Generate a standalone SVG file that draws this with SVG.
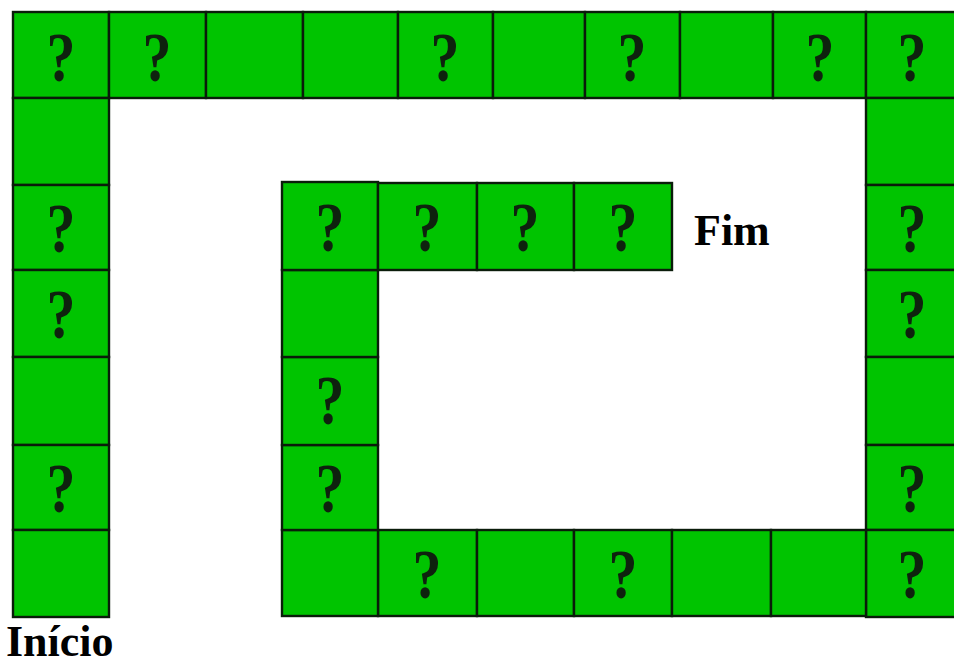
<svg xmlns="http://www.w3.org/2000/svg" width="954" height="665" viewBox="0 0 954 665">
<style>
.c{fill:#00c400;stroke:#0a1c0a;stroke-width:2.4}
.q{font-family:"Liberation Serif",serif;font-weight:bold;font-size:58px;fill:#0e220e;text-anchor:middle}
.l{font-family:"Liberation Serif",serif;font-weight:bold;font-size:44px;fill:#000}
</style>
<rect width="954" height="665" fill="#fff"/>
<g id="top">
<g id="t1"><rect class="c" x="13" y="12" width="96" height="86"/><text class="q" transform="translate(61,81) scale(1,1.2)">?</text></g>
<g id="t2"><rect class="c" x="109" y="12" width="97" height="86"/><text class="q" transform="translate(157,81) scale(1,1.2)">?</text></g>
<g id="t3"><rect class="c" x="206" y="12" width="97" height="86"/></g>
<g id="t4"><rect class="c" x="303" y="12" width="95" height="86"/></g>
<g id="t5"><rect class="c" x="398" y="12" width="95" height="86"/><text class="q" transform="translate(445,81) scale(1,1.2)">?</text></g>
<g id="t6"><rect class="c" x="493" y="12" width="92" height="86"/></g>
<g id="t7"><rect class="c" x="585" y="12" width="95" height="86"/><text class="q" transform="translate(632,81) scale(1,1.2)">?</text></g>
<g id="t8"><rect class="c" x="680" y="12" width="93" height="86"/></g>
<g id="t9"><rect class="c" x="773" y="12" width="93" height="86"/><text class="q" transform="translate(820,81) scale(1,1.2)">?</text></g>
<g id="t10"><rect class="c" x="866" y="12" width="94" height="86"/><text class="q" transform="translate(912,81) scale(1,1.2)">?</text></g>
</g>
<g id="left">
<g id="l2"><rect class="c" x="13" y="98" width="96" height="87"/></g>
<g id="l3"><rect class="c" x="13" y="185" width="96" height="85"/><text class="q" transform="translate(61,252) scale(1,1.2)">?</text></g>
<g id="l4"><rect class="c" x="13" y="270" width="96" height="87"/><text class="q" transform="translate(61,338) scale(1,1.2)">?</text></g>
<g id="l5"><rect class="c" x="13" y="357" width="96" height="88"/></g>
<g id="l6"><rect class="c" x="13" y="445" width="96" height="85"/><text class="q" transform="translate(61,512) scale(1,1.2)">?</text></g>
<g id="l7"><rect class="c" x="13" y="530" width="96" height="87"/></g>
</g>
<g id="right">
<g id="r2"><rect class="c" x="866" y="98" width="94" height="87"/></g>
<g id="r3"><rect class="c" x="866" y="185" width="94" height="85"/><text class="q" transform="translate(912,252) scale(1,1.2)">?</text></g>
<g id="r4"><rect class="c" x="866" y="270" width="94" height="87"/><text class="q" transform="translate(912,338) scale(1,1.2)">?</text></g>
<g id="r5"><rect class="c" x="866" y="357" width="94" height="88"/></g>
<g id="r6"><rect class="c" x="866" y="445" width="94" height="85"/><text class="q" transform="translate(912,512) scale(1,1.2)">?</text></g>
<g id="r7"><rect class="c" x="866" y="530" width="94" height="87"/><text class="q" transform="translate(912,598) scale(1,1.2)">?</text></g>
</g>
<g id="bottom">
<g id="b1"><rect class="c" x="378" y="530" width="99" height="86"/><text class="q" transform="translate(427,598) scale(1,1.2)">?</text></g>
<g id="b2"><rect class="c" x="477" y="530" width="97" height="86"/></g>
<g id="b3"><rect class="c" x="574" y="530" width="98" height="86"/><text class="q" transform="translate(623,598) scale(1,1.2)">?</text></g>
<g id="b4"><rect class="c" x="672" y="530" width="99" height="86"/></g>
<g id="b5"><rect class="c" x="771" y="530" width="95" height="86"/></g>
</g>
<g id="inner">
<g id="i5"><rect class="c" x="282" y="530" width="96" height="86"/></g>
<g id="i4"><rect class="c" x="282" y="445" width="96" height="85"/><text class="q" transform="translate(330,512) scale(1,1.2)">?</text></g>
<g id="i3"><rect class="c" x="282" y="357" width="96" height="88"/><text class="q" transform="translate(330,424) scale(1,1.2)">?</text></g>
<g id="i2"><rect class="c" x="282" y="270" width="96" height="87"/></g>
<g id="i1"><rect class="c" x="282" y="182" width="96" height="88"/><text class="q" transform="translate(330,251) scale(1,1.2)">?</text></g>
<g id="it1"><rect class="c" x="378" y="183" width="99" height="87"/><text class="q" transform="translate(427,251) scale(1,1.2)">?</text></g>
<g id="it2"><rect class="c" x="477" y="183" width="97" height="87"/><text class="q" transform="translate(525,251) scale(1,1.2)">?</text></g>
<g id="it3"><rect class="c" x="574" y="183" width="98" height="87"/><text class="q" transform="translate(623,251) scale(1,1.2)">?</text></g>
</g>
<g id="connectors"/>
<text id="fim" class="l" x="694" y="245">Fim</text>
<text id="inicio" class="l" x="6" y="656">Início</text>
</svg>
